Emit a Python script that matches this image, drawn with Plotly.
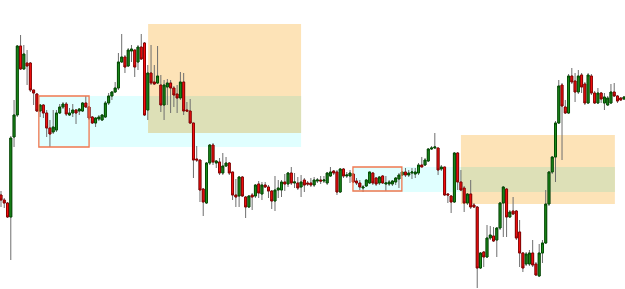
import plotly.graph_objects as go

# OHLC values (price units)
open_ = [94, 89, 86, 72, 152, 174, 243, 220, 226, 226, 199, 195, 178, 184, 176, 161, 157, 159, 176, 182,
         185, 174, 176, 179, 178, 178, 186, 182, 172, 166, 170, 169,
         172, 186, 193, 197, 201, 227, 232, 223, 238, 239, 227, 242, 246, 179, 216, 207, 206, 204,
         184, 202, 206, 201, 195, 191, 207, 179, 178, 166, 130, 129, 100,
         86, 126, 144, 126, 127, 116, 123, 126, 117, 94, 93, 112, 92, 82, 94, 93, 105, 95, 104,
         102, 98, 88, 99, 99, 107, 105, 116, 106, 106, 102, 109, 106, 106, 104, 108, 109, 108,
         106, 113, 118, 117, 97, 120, 113, 113, 115, 108, 106, 101, 103, 106, 116, 111, 106, 113,
         105, 105, 105, 107, 110, 114,
         117, 114, 116, 115, 116, 124, 124, 128, 140, 141, 141, 120, 122, 95, 93, 87, 136, 107,
         101, 86, 95, 84, 82, 21, 37, 32, 51, 53, 49, 61, 86, 100, 72, 78, 78, 57, 36, 25, 25, 36,
         25, 13, 36, 46, 85, 117, 132, 166, 204, 182, 176, 213, 208, 197, 214, 205, 186, 213, 196,
         186, 196, 186, 184, 186, 197, 193, 191, 190]
high = [98, 91, 87, 153, 189, 244, 254, 244, 239, 227, 199, 196, 185, 185, 179, 169, 179, 179, 185, 187,
        187, 181, 185, 180, 181, 187, 193, 183, 173, 172, 174, 175,
        188, 196, 198, 207, 236, 255, 234, 241, 244, 239, 244, 255, 247, 224, 244, 224, 243, 214,
        209, 210, 209, 203, 204, 217, 216, 187, 190, 166, 143, 129, 101,
        127, 145, 146, 129, 131, 136, 132, 127, 117, 110, 113, 113, 93, 94, 96, 105, 108, 107, 107,
        104, 99, 113, 109, 109, 115, 117, 122, 116, 112, 114, 111, 108, 111, 112, 111, 113, 113,
        117, 122, 119, 119, 121, 121, 117, 119, 116, 111, 109, 104, 110, 117, 117, 112, 113, 114,
        113, 109, 109, 112, 116, 117,
        121, 119, 121, 121, 126, 132, 131, 141, 143, 156, 141, 124, 122, 96, 94, 137, 137, 119,
        103, 96, 109, 86, 83, 37, 38, 64, 63, 62, 62, 87, 103, 101, 79, 92, 79, 69, 37, 37, 39, 49,
        27, 45, 49, 99, 118, 133, 168, 209, 206, 189, 215, 221, 216, 219, 216, 207, 216, 215, 198,
        201, 197, 196, 193, 205, 206, 194, 192, 193]
low = [82, 81, 71, 29, 142, 172, 219, 219, 204, 197, 184, 177, 172, 171, 152, 142, 155, 157, 175, 180,
       173, 173, 172, 165, 174, 177, 181, 169, 165, 162, 168, 168,
       171, 184, 189, 196, 199, 226, 216, 222, 227, 212, 219, 229, 173, 169, 204, 204, 205, 177,
       169, 184, 176, 182, 176, 189, 174, 177, 165, 111, 127, 87, 73,
       85, 124, 124, 121, 114, 114, 122, 114, 89, 82, 82, 92, 71, 81, 79, 91, 91, 89, 101,
       91, 80, 78, 91, 92, 98, 102, 104, 101, 99, 92, 97, 103, 102, 102, 106, 105, 106,
       104, 112, 114, 94, 96, 111, 111, 106, 106, 104, 99, 97, 102, 105, 104, 103, 104, 105,
       98, 103, 103, 104, 101, 113,
       112, 112, 110, 111, 114, 122, 123, 127, 139, 140, 114, 118, 93, 86, 76, 86, 99, 98,
       77, 84, 80, 81, 1, 20, 22, 31, 49, 47, 32, 59, 52, 52, 71, 74, 49, 22, 17, 23, 23, 22,
       13, 12, 26, 45, 83, 115, 107, 165, 129, 175, 175, 205, 187, 195, 196, 184, 185, 194, 185,
       185, 186, 179, 183, 185, 192, 186, 188, 189]
close = [89, 86, 72, 151, 174, 243, 220, 235, 223, 199, 196, 178, 184, 176, 161, 155, 162, 176, 182, 185,
         175, 176, 179, 176, 180, 186, 182, 171, 166, 171, 172, 174,
         186, 193, 197, 201, 227, 232, 222, 239, 240, 222, 242, 230, 174, 216, 206, 205, 213, 184,
         204, 206, 201, 194, 191, 207, 178, 178, 166, 129, 129, 99, 87,
         126, 144, 127, 128, 116, 123, 126, 116, 94, 92, 112, 93, 82, 93, 92, 104, 96, 104, 102,
         98, 88, 99, 101, 107, 105, 116, 106, 107, 101, 107, 104, 105, 104, 109, 109, 108, 109,
         116, 117, 116, 97, 120, 113, 114, 116, 107, 106, 102, 102, 109, 117, 106, 105, 112, 106,
         106, 107, 108, 111, 114, 117,
         114, 116, 117, 117, 124, 122, 129, 140, 141, 142, 119, 122, 94, 94, 87, 136, 107, 99,
         86, 95, 82, 82, 21, 36, 32, 51, 54, 48, 61, 86, 102, 72, 77, 75, 51, 36, 21, 35, 36, 24,
         14, 36, 46, 85, 117, 132, 166, 203, 183, 176, 213, 207, 197, 213, 202, 186, 214, 196, 186,
         196, 190, 192, 191, 197, 193, 188, 189, 192]

# Zones (x in candle index units, y in price units)
box_x0 = [11.6, 107.9]
box_x1 = [27.0, 122.9]
box_y0 = [142, 98]
box_y1 = [193, 122]
demand_x0 = [11.6, 107.9]
demand_x1 = [92.0, 188.2]
demand_y0 = [142, 97]
demand_y1 = [193, 122]
supply_x0 = [45.1, 141.0]
supply_x1 = [92.0, 188.2]
supply_y0 = [156, 85]
supply_y1 = [265, 154]

n = len(open_)
x = list(range(n))
body_hi = [max(o, c) for o, c in zip(open_, close)]
body_lo = [min(o, c) for o, c in zip(open_, close)]

fig = go.Figure()
wick = '#6e6e6e'
fig.add_trace(go.Candlestick(
    x=x, open=open_, high=high, low=low, close=close,
    increasing=dict(line=dict(color=wick, width=1), fillcolor=wick),
    decreasing=dict(line=dict(color=wick, width=1), fillcolor=wick),
    hoverinfo='skip', showlegend=False))
fig.add_trace(go.Candlestick(
    x=x, open=open_, high=body_hi, low=body_lo, close=close,
    increasing=dict(line=dict(color='#004d00', width=1), fillcolor='#1f8f1f'),
    decreasing=dict(line=dict(color='#8b0000', width=1), fillcolor='#ff1010'),
    hoverinfo='skip', showlegend=False))

shapes = []
for i in range(2):
    shapes.append(dict(type='rect', xref='x', yref='y', layer='below',
                       x0=demand_x0[i], x1=demand_x1[i], y0=demand_y0[i], y1=demand_y1[i],
                       fillcolor='#e0ffff', line=dict(width=0)))
    shapes.append(dict(type='rect', xref='x', yref='y', layer='below',
                       x0=supply_x0[i], x1=supply_x1[i], y0=supply_y0[i], y1=supply_y1[i],
                       fillcolor='#fde3b7', line=dict(width=0)))
    ox0 = max(demand_x0[i], supply_x0[i]); ox1 = min(demand_x1[i], supply_x1[i])
    oy0 = max(demand_y0[i], supply_y0[i]); oy1 = min(demand_y1[i], supply_y1[i])
    shapes.append(dict(type='rect', xref='x', yref='y', layer='below',
                       x0=ox0, x1=ox1, y0=oy0, y1=oy1,
                       fillcolor='#dde0b7', line=dict(width=0)))
    shapes.append(dict(type='rect', xref='x', yref='y', layer='above',
                       x0=box_x0[i], x1=box_x1[i], y0=box_y0[i], y1=box_y1[i],
                       fillcolor='rgba(0,0,0,0)', line=dict(color='#f07850', width=1.3)))

s = 623 / (n - 1)
fig.update_layout(
    width=625, height=289, margin=dict(l=0, r=0, t=0, b=0),
    paper_bgcolor='white', plot_bgcolor='white',
    shapes=shapes, boxgap=0.15, showlegend=False,
    xaxis=dict(visible=False, range=[-1 / s, 624 / s], rangeslider=dict(visible=False)),
    yaxis=dict(visible=False, range=[0, 289]),
)
fig.write_html('out.html')
